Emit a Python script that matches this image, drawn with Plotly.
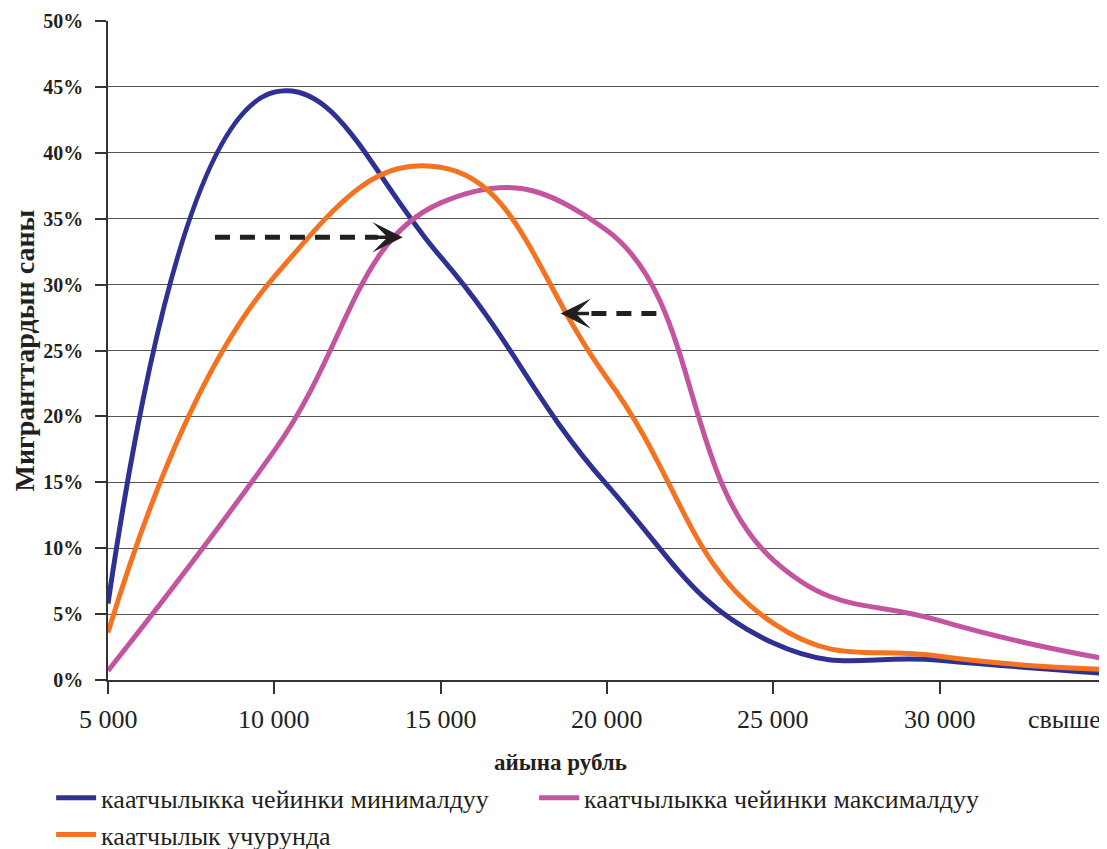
import plotly.graph_objects as go

categories = ["5 000", "10 000", "15 000", "20 000", "25 000", "30 000", "свыше"]
x_idx = list(range(len(categories)))

series_names = [
    "каатчылыкка чейинки минималдуу",
    "каатчылыкка чейинки максималдуу",
    "каатчылык учурунда",
]
before_min = [5.8, 44.6, 32.1, 14.8, 2.8, 1.5, 0.5]
before_max = [0.7, 17.4, 36.2, 34.1, 9.1, 4.5, 1.6]
during = [3.6, 30.6, 38.9, 22.9, 4.3, 1.8, 0.8]
colors = ["#2E3192", "#C355A0", "#F47321"]

y_ticks = [0, 5, 10, 15, 20, 25, 30, 35, 40, 45, 50]

FONT = "Liberation Serif"

fig = go.Figure()
for name, vals, col in zip(series_names, [before_min, before_max, during], colors):
    fig.add_trace(go.Scatter(
        x=x_idx, y=vals, name=name, mode="lines",
        line=dict(color=col, width=5, shape="spline", smoothing=1.3),
    ))

# dashed arrows (data coordinates: category index, percent)
arrows = [
    dict(tail=(0.643, 33.6), tip=(1.772, 33.6)),
    dict(tail=(3.297, 27.8), tip=(2.721, 27.8)),
]
for a in arrows:
    tx, ty = a["tail"]
    hx, hy = a["tip"]
    direction = 1 if hx > tx else -1
    stop = hx - direction * 0.15
    fig.add_shape(type="line", x0=tx, y0=ty, x1=stop, y1=hy, xref="x", yref="y",
                  line=dict(color="#231F20", width=5, dash="15px,10px"))
    fig.add_annotation(x=hx, y=hy, xref="x", yref="y", ax=-direction * 30, ay=0,
                       showarrow=True, arrowhead=3, arrowsize=1.45, arrowwidth=3.5,
                       arrowcolor="#231F20", text="")

# x tick labels
for i, lab in enumerate(categories):
    if i < len(categories) - 1:
        fig.add_annotation(x=i, y=0, xref="x", yref="paper", text=lab, showarrow=False,
                           yanchor="top", yshift=-23, font=dict(family=FONT, size=26, color="#231F20"))
    else:
        fig.add_annotation(x=1, y=0, xref="paper", yref="paper", text=lab, showarrow=False,
                           xanchor="right", yanchor="top", yshift=-23, xshift=-3,
                           font=dict(family=FONT, size=26, color="#231F20"))

fig.add_annotation(x=0.453, y=0, xref="paper", yref="paper", text="<b>айына рубль</b>",
                   showarrow=False, yanchor="top", yshift=-68,
                   font=dict(family=FONT, size=23, color="#231F20"))

# the page body adds an 8px offset; margins compensate for it
fig.update_layout(
    width=1107, height=849,
    margin=dict(l=100, r=9, t=13, b=177, autoexpand=False),
    paper_bgcolor="white", plot_bgcolor="white",
    font=dict(family=FONT, color="#231F20"),
    showlegend=True,
    legend=dict(orientation="h", x=-0.057, y=-0.143, xanchor="left", yanchor="top",
                font=dict(family=FONT, size=26, color="#231F20"),
                entrywidth=428, traceorder="normal", itemwidth=40),
)
fig.update_xaxes(
    range=[0, 6], tickvals=x_idx, showticklabels=False, automargin=False,
    ticks="outside", ticklen=12, tickcolor="#333", tickwidth=1.5,
    showgrid=False, showline=True, linecolor="#333", linewidth=1.5, zeroline=False,
)
fig.update_yaxes(
    range=[0, 50], tickvals=y_ticks, ticktext=[f"<b>{v}%</b>" for v in y_ticks],
    ticks="outside", ticklen=11, tickcolor="#333", tickwidth=1.5, automargin=False,
    tickfont=dict(family=FONT, size=20, color="#231F20"), ticklabelstandoff=8,
    showgrid=True, gridcolor="#555", gridwidth=1.3,
    showline=True, linecolor="#333", linewidth=1.5, mirror=True, zeroline=False,
    title=dict(text="<b>Мигранттардын саны</b>", font=dict(family=FONT, size=28, color="#231F20"), standoff=0),
)

fig.write_html("out.html")
